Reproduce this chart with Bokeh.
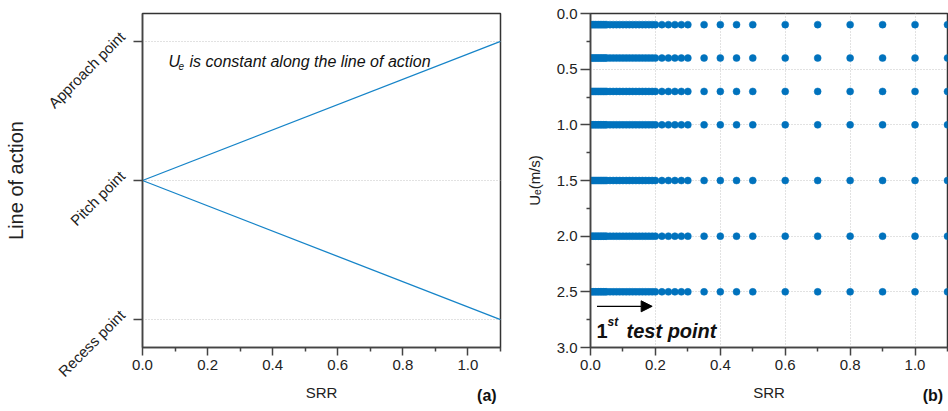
import math
from bokeh.plotting import figure
from bokeh.layouts import row
from bokeh.models import (Range1d, FixedTicker, Label, Arrow, NormalHead,
                          NumeralTickFormatter, LinearAxis)
from bokeh.embed import file_html
from bokeh.resources import INLINE

FONT = "Liberation Sans"

# ---------------- data: panel (a) ----------------
line_x = [0.0, 1.1]
upper_y = [0.0, 1.0]
lower_y = [0.0, -1.0]
loa_ticks = [-1, 0, 1]
loa_labels = ["Recess point", "Pitch point", "Approach point"]

# ---------------- data: panel (b) ----------------
ue_levels = [0.1, 0.4, 0.7, 1.0, 1.5, 2.0, 2.5]
srr_values = [0.000, 0.005, 0.010, 0.015, 0.020, 0.025, 0.030, 0.035, 0.040, 0.045,
              0.050, 0.060, 0.070, 0.080, 0.090, 0.100, 0.110, 0.120, 0.130, 0.140,
              0.150, 0.160, 0.170, 0.180, 0.190, 0.200,
              0.22, 0.24, 0.26, 0.28, 0.30, 0.35, 0.40, 0.45, 0.50,
              0.60, 0.70, 0.80, 0.90, 1.00, 1.10]

x_major = [0.0, 0.2, 0.4, 0.6, 0.8, 1.0]
x_minor = [0.1, 0.3, 0.5, 0.7, 0.9, 1.1]
ue_major = [0.0, 0.5, 1.0, 1.5, 2.0, 2.5, 3.0]
ue_minor = [0.25, 0.75, 1.25, 1.75, 2.25, 2.75]
panel_tags = ["(a)", "(b)"]

DOT = "#0072BD"
LINE = "#1684C8"
GRID = "#c4c4c4"
AX = "#444444"


def style(p):
    p.outline_line_color = "#333333"
    p.outline_line_width = 1.5
    p.background_fill_color = "white"
    p.border_fill_color = "white"
    for ax in (p.xaxis[0], p.yaxis[0]):
        ax.axis_line_color = AX
        ax.axis_line_width = 1.5
        ax.major_tick_line_color = AX
        ax.major_tick_line_width = 1.5
        ax.minor_tick_line_color = AX
        ax.minor_tick_line_width = 1.5
        ax.major_tick_out = 8
        ax.major_tick_in = 0
        ax.minor_tick_out = 4
        ax.minor_tick_in = 0
        ax.major_label_text_font = FONT
        ax.major_label_text_font_size = "15px"
        ax.major_label_text_color = "#222222"
        ax.axis_label_text_font = FONT
        ax.axis_label_text_font_style = "normal"
        ax.axis_label_text_color = "#222222"
    p.xaxis[0].ticker = FixedTicker(ticks=x_major, minor_ticks=x_minor)
    p.xaxis[0].formatter = NumeralTickFormatter(format="0.0")
    p.xaxis[0].axis_label = "SRR"
    p.xaxis[0].axis_label_text_font_size = "15px"
    p.xaxis[0].axis_label_standoff = 11
    p.xaxis[0].major_label_standoff = 4


def add_tag(p, tag, pos):
    # an extra label-only axis below the main x axis, pulled up to the "SRR" line
    ax = LinearAxis(ticker=FixedTicker(ticks=[pos], minor_ticks=[]),
                    major_label_overrides={pos: tag})
    ax.axis_line_color = None
    ax.major_tick_line_color = None
    ax.minor_tick_line_color = None
    ax.major_tick_out = 0
    ax.major_tick_in = 0
    ax.minor_tick_out = 0
    ax.major_label_standoff = -17
    ax.major_label_text_font = FONT
    ax.major_label_text_font_size = "16px"
    ax.major_label_text_font_style = "bold"
    ax.major_label_text_color = "#111111"
    p.add_layout(ax, "below")


# ---------------- panel (a) ----------------
p1 = figure(width=520, height=411, x_range=Range1d(0, 1.1), y_range=Range1d(-1.2, 1.2),
            output_backend="svg", toolbar_location=None,
            min_border_left=142, min_border_right=20, min_border_top=13, min_border_bottom=64)
style(p1)
p1.xgrid.visible = False
p1.ygrid.grid_line_color = GRID
p1.ygrid.grid_line_dash = "1 2"
p1.yaxis[0].ticker = FixedTicker(ticks=loa_ticks, minor_ticks=[])
# a trailing empty line lifts the rotated label so that it ends at its tick
p1.yaxis[0].major_label_overrides = {t: l + "\n" for t, l in zip(loa_ticks, loa_labels)}
p1.yaxis[0].major_label_orientation = math.pi / 4
p1.yaxis[0].major_label_standoff = 4
p1.yaxis[0].major_tick_out = 9
p1.yaxis[0].axis_label = "Line of action"
p1.yaxis[0].axis_label_text_font_size = "20px"
p1.yaxis[0].axis_label_standoff = 2

p1.line(line_x, upper_y, line_color=LINE, line_width=1.3)
p1.line(line_x, lower_y, line_color=LINE, line_width=1.3)

ann = dict(text_font=FONT, text_font_size="16px", text_font_style="italic",
           text_color="#111111", text_baseline="alphabetic")
p1.add_layout(Label(x=0.08, y=0.857, text="U", **ann))
p1.add_layout(Label(x=0.08, y=0.826, x_offset=10, text="e", text_font=FONT,
                    text_font_size="10px", text_font_style="italic",
                    text_color="#111111", text_baseline="alphabetic"))
p1.add_layout(Label(x=0.08, y=0.857, x_offset=21, text="is constant along the line of action", **ann))
add_tag(p1, panel_tags[0], 1.058)

# ---------------- panel (b) ----------------
p2 = figure(width=428, height=411, x_range=Range1d(0, 1.1), y_range=Range1d(3.0, 0.0),
            output_backend="svg", toolbar_location=None,
            min_border_left=70, min_border_right=1, min_border_top=13, min_border_bottom=64)
style(p2)
for g in (p2.xgrid[0], p2.ygrid[0]):
    g.grid_line_color = GRID
    g.grid_line_dash = "1 2"
p2.yaxis[0].ticker = FixedTicker(ticks=ue_major, minor_ticks=ue_minor)
p2.yaxis[0].formatter = NumeralTickFormatter(format="0.0")
p2.yaxis[0].major_tick_out = 10
p2.yaxis[0].major_label_standoff = 3
p2.yaxis[0].axis_label = "Uₑ(m/s)"
p2.yaxis[0].axis_label_text_font_size = "15px"
p2.yaxis[0].axis_label_standoff = 11

xs, ys = [], []
for u in ue_levels:
    for s in srr_values:
        xs.append(s)
        ys.append(u)
p2.scatter(xs, ys, size=7, fill_color=DOT, line_color=DOT, line_width=0.5)

p2.add_layout(Arrow(end=NormalHead(size=11, fill_color="black", line_color="black"),
                    x_start=0.02, y_start=2.63, x_end=0.19, y_end=2.63,
                    line_color="black", line_width=1.3))
tp = dict(text_font=FONT, text_color="#111111", text_baseline="alphabetic")
p2.add_layout(Label(x=0.0185, y=2.856, text="1", text_font_size="20px",
                    text_font_style="bold", **tp))
p2.add_layout(Label(x=0.0185, y=2.767, x_offset=11, text="st", text_font_size="12px",
                    text_font_style="bold italic", **tp))
p2.add_layout(Label(x=0.0185, y=2.856, x_offset=30, text="test point", text_font_size="20px",
                    text_font_style="bold italic", **tp))
add_tag(p2, panel_tags[1], 1.055)

layout = row(p1, p2)
open("out.html", "w").write(file_html(layout, INLINE))
